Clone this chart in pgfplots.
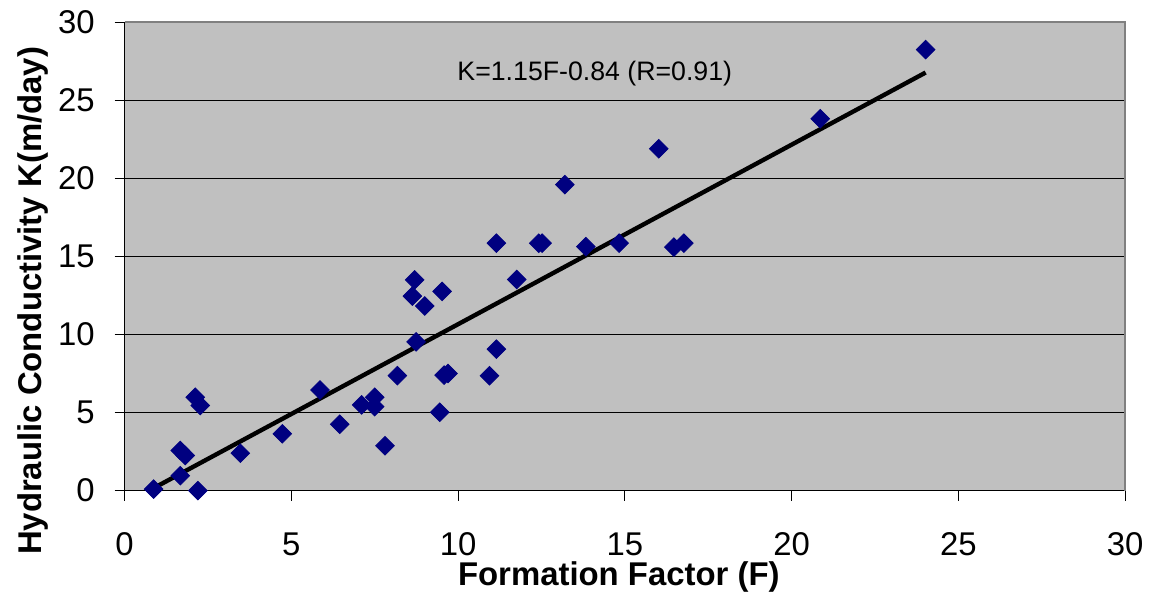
\documentclass[border={5.5pt 0pt 0pt 2pt}]{standalone}
\usepackage{fontspec}
\setmainfont{Liberation Sans}
\usepackage{pgfplots}
\pgfplotsset{compat=1.18}
\definecolor{bgGray}{HTML}{C0C0C0}
\definecolor{frameGray}{HTML}{808080}
\definecolor{navyPt}{HTML}{000080}

\begin{document}
\begin{tikzpicture}
\begin{axis}[
  scale only axis,
  width=502pt, height=235pt,
  xmin=0, xmax=30, ymin=0, ymax=30,
  xtick={0,5,...,30}, ytick={0,5,...,30},
  xtick pos=bottom, ytick pos=left,
  tick align=outside, major tick length=5pt,
  tick style={black, line width=0.5pt},
  axis line style={black, line width=0.5pt},
  axis background/.style={fill=bgGray},
  ymajorgrids, grid style={black, line width=0.5pt},
  /pgf/number format/assume math mode=true,
  tick label style={font=\fontsize{16.5}{19}\selectfont},
  xticklabel style={yshift=-12.5pt},
  yticklabel style={xshift=-6.5pt},
  xlabel={Formation Factor (F)},
  ylabel={Hydraulic Conductivity K(m/day)},
  label style={font=\bfseries\fontsize{16.5}{19}\selectfont},
  xlabel style={at={(axis description cs:0.494,-0.185)}, anchor=center},
  ylabel style={at={(axis description cs:-0.0916,0.405)}, anchor=center},
  clip=false,
]
% measured points
\addplot[only marks, mark=square*, mark size=3.3pt, mark options={rotate=45, fill=navyPt, draw=navyPt}]
  coordinates {
  (0.87,0.1) (1.67,0.96) (1.67,2.57) (1.82,2.25) (2.12,5.98) (2.27,5.45)
  (2.2,0) (3.47,2.4) (4.73,3.64) (5.86,6.45) (6.45,4.25) (7.11,5.49)
  (7.5,5.98) (7.5,5.38) (7.81,2.87) (8.18,7.36) (8.63,12.46) (8.7,13.5)
  (8.74,9.53) (9.0,11.83) (9.45,5.02) (9.52,12.76) (9.58,7.4) (9.70,7.5)
  (10.94,7.36) (11.15,9.06) (11.15,15.85) (11.76,13.53) (12.42,15.85)
  (12.52,15.85) (13.2,19.6) (13.83,15.63) (14.83,15.85) (16.02,21.9)
  (16.47,15.6) (16.77,15.85) (20.86,23.82) (24.02,28.25)
  };
% fitted line K = 1.15F - 0.84
\addplot[black, line width=2.2pt, no marks] coordinates {(0.87,0.16) (24.02,26.78)};
\draw[frameGray, line width=1.2pt] (rel axis cs:0,1) -- (rel axis cs:1,1) -- (rel axis cs:1,0);
\node[font=\fontsize{13.4}{16}\selectfont] at (axis cs:14.1,26.7) {K=1.15F-0.84 (R=0.91)};
\end{axis}
\end{tikzpicture}
\end{document}
